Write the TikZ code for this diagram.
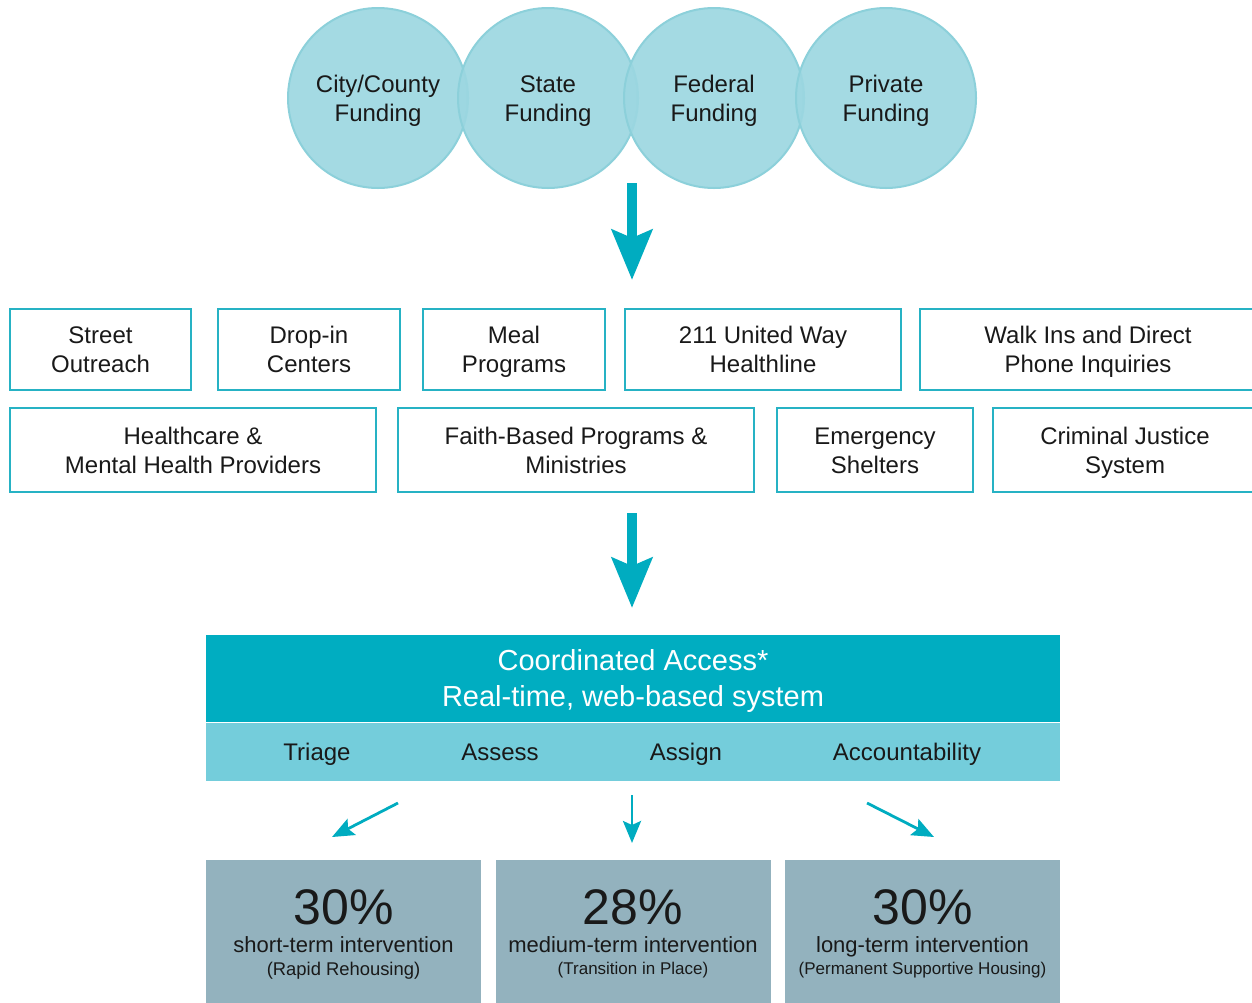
\documentclass[tikz,border=0pt]{standalone}
\usepackage{fontspec}
\setmainfont{Liberation Sans}
\usetikzlibrary{arrows.meta,positioning}
\definecolor{circlefill}{RGB}{156,215,225}
\definecolor{circleline}{RGB}{140,208,218}
\definecolor{boxline}{RGB}{38,178,196}
\definecolor{arrowteal}{RGB}{0,172,192}
\definecolor{accessteal}{RGB}{0,173,193}
\definecolor{bandteal}{RGB}{116,205,219}
\definecolor{outcomefill}{RGB}{147,178,190}
\newcommand\lowstrut{\rule[-.2\baselineskip]{0pt}{\baselineskip}}
\tikzset{
	every node/.style={font=\fontsize{12}{14.5}\selectfont, text=black!90, align=center, inner sep=0pt,
		execute at end node=\lowstrut},
	twoline/.style={text height=26.1pt, text depth=2.9pt},
	funding/.style={twoline, circle, minimum size=90pt, fill=circlefill, fill opacity=0.92, text opacity=1, draw=circleline, line width=1pt},
	entry/.style={twoline, draw=boxline, line width=1.25pt, minimum height=40.5pt},
	entrytall/.style={entry, minimum height=42pt},
	bigarrow/.style={draw=arrowteal, line width=5pt, -{Stealth[length=25pt, width=20pt, inset=4pt]}},
	smallarrow/.style={draw=arrowteal, line width=1.4pt, -{Stealth[length=11pt, width=9pt, inset=2pt]}},
	outcome/.style={fill=outcomefill, minimum width=137.5pt, minimum height=76pt, anchor=north},
	pct/.style={font=\fontsize{25}{28}\selectfont},
	term/.style={font=\fontsize{11}{13}\selectfont},
}

\begin{document}
\begin{tikzpicture}[x=0.5pt, y=-0.5pt]
	\useasboundingbox (0,0) rectangle (1252,1002);

	% funding sources
	\node[funding] (city) at (378,98) {City/County\\Funding};
	\node[funding] (state) at (548,98) {State\\Funding};
	\node[funding] (federal) at (714,98) {Federal\\Funding};
	\node[funding] (private) at (886,98) {Private\\Funding};

	\coordinate (fundtop) at (632,183);
	\coordinate (fundbot) at (632,280);
	\draw[bigarrow] (fundtop) -- (fundbot);

	% entry points
	\node[entry, minimum width=90.5pt] (street) at (100.5,349.5) {Street\\Outreach};
	\node[entry, minimum width=91pt] (dropin) at (309,349.5) {Drop-in\\Centers};
	\node[entry, minimum width=91pt] (meal) at (514,349.5) {Meal\\Programs};
	\node[entry, minimum width=138pt] (unitedway) at (763,349.5) {211 United Way\\Healthline};
	\node[entry, minimum width=168pt] (walkin) at (1088,349.5) {Walk Ins and Direct\\Phone Inquiries};

	\node[entrytall, minimum width=183pt] (health) at (193,450) {Healthcare \&\\Mental Health Providers};
	\node[entrytall, minimum width=178pt] (faith) at (576,450) {Faith-Based Programs \&\\Ministries};
	\node[entrytall, minimum width=98pt] (shelter) at (875,450) {Emergency\\Shelters};
	\node[entrytall, minimum width=132pt] (justice) at (1125,450) {Criminal Justice\\System};

	\coordinate (entrytop) at (632,513);
	\coordinate (entrybot) at (632,608);
	\draw[bigarrow] (entrytop) -- (entrybot);

	% coordinated access
	\node[fill=accessteal, minimum width=427pt, minimum height=43.5pt, text height=32pt, text depth=3.6pt, text=white, font=\fontsize{14.5}{18}\selectfont] (access) at (633,678.5) {Coordinated Access*\\Real-time, web-based system};
	\node[fill=bandteal, minimum width=427pt, minimum height=29pt, text height=0pt, text depth=0pt, anchor=north] (band) at (access.south) {};
	\node (triage) at (317,752) {Triage};
	\node (assess) at (500,752) {Assess};
	\node (assign) at (686,752) {Assign};
	\node (account) at (907,752) {Accountability};

	\coordinate (lefttail) at (398,803);
	\coordinate (lefttip) at (332,837);
	\coordinate (midtail) at (632,795);
	\coordinate (midtip) at (632,843);
	\coordinate (righttail) at (867,803);
	\coordinate (righttip) at (934,837);
	\draw[smallarrow] (lefttail) -- (lefttip);
	\draw[smallarrow] (midtail) -- (midtip);
	\draw[smallarrow] (righttail) -- (righttip);

	% outcomes
	\node[outcome] (shortbox) at (343.5,860) {};
	\node[pct] (shortpct) at (343.5,908) {30\%};
	\node[term] (shortterm) at (343.5,945) {short-term intervention};
	\node[font=\fontsize{9.2}{11}\selectfont] (shortnote) at (343.5,969) {(Rapid Rehousing)};

	\node[outcome] (mediumbox) at (633,860) {};
	\node[pct] (mediumpct) at (633,908) {28\%};
	\node[term] (mediumterm) at (633,945) {medium-term intervention};
	\node[font=\fontsize{8.5}{10}\selectfont] (mediumnote) at (633,968) {(Transition in Place)};

	\node[outcome] (longbox) at (922.5,860) {};
	\node[pct] (longpct) at (922.5,908) {30\%};
	\node[term] (longterm) at (922.5,945) {long-term intervention};
	\node[font=\fontsize{8.5}{10}\selectfont] (longnote) at (922.5,968) {(Permanent Supportive Housing)};
\end{tikzpicture}
\end{document}
